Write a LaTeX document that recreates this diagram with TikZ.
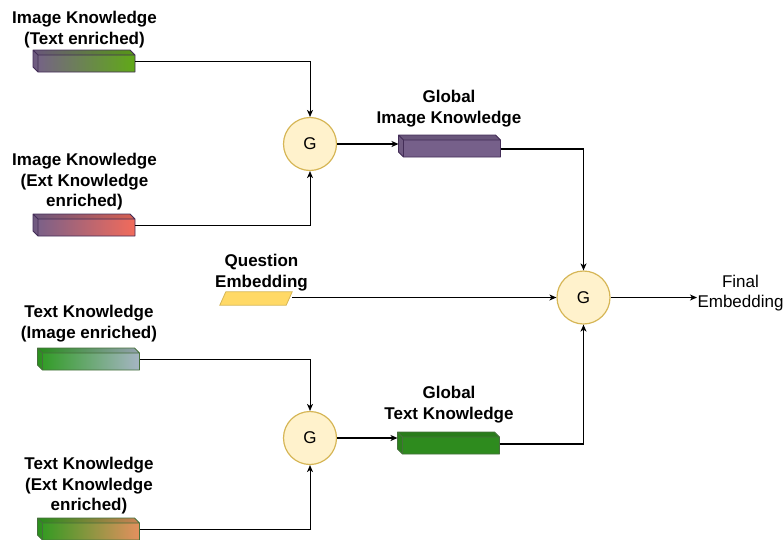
\documentclass[tikz,border=0pt]{standalone}
\usepackage{fontspec}
\setmainfont{Liberation Sans}
\usetikzlibrary{calc,arrows.meta}

\definecolor{kpurple}{HTML}{76608A}
\definecolor{kpurpleline}{HTML}{432D57}
\definecolor{kgreen}{HTML}{60A917}
\definecolor{kred}{HTML}{F26B5B}
\definecolor{tgreen}{HTML}{2D9B20}
\definecolor{tsteel}{HTML}{A6B5C4}
\definecolor{torange}{HTML}{E5905F}
\definecolor{tgreendark}{HTML}{2E8B1E}
\definecolor{tgreenline}{HTML}{2D6A1F}
\definecolor{gfill}{HTML}{FFF2CC}
\definecolor{gline}{HTML}{D6B656}
\definecolor{qfill}{HTML}{FFD966}

\tikzset{
  lbl/.style={font=\fontsize{17}{20.5}\selectfont\bfseries, align=center, inner sep=0pt},
  plainlbl/.style={font=\fontsize{17}{20.5}\selectfont, align=center, inner sep=0pt},
  cubebox/.style={minimum width=102pt, minimum height=22pt, inner sep=0pt, outer sep=0pt},
  gate/.style={circle, draw=gline, fill=gfill, line width=1.2pt, minimum size=53pt,
    inner sep=0pt, font=\fontsize{17}{20.5}\selectfont},
  tip/.style={-{Stealth[length=7pt,width=6pt,inset=2pt]}},
  thinlink/.style={tip, line width=0.8pt},
  link/.style={tip, line width=1.5pt},
}

% cube with a 5pt depth on its top and left side: name, x, y, left colour, right colour, stroke
\newcommand\cubenode[6]{%
  \node[cubebox] (#1) at (#2,#3) {};
  \coordinate (#1-a) at (#1.north west);
  \coordinate (#1-b) at ($(#1.north east)+(-5,0)$);
  \coordinate (#1-c) at ($(#1.north east)+(0,5)$);
  \coordinate (#1-d) at (#1.south east);
  \coordinate (#1-e) at ($(#1.south west)+(5,0)$);
  \coordinate (#1-f) at ($(#1.south west)+(0,-5)$);
  \coordinate (#1-g) at ($(#1.north west)+(5,5)$);
  \shade[left color=#4, right color=#5]
    (#1-a) -- (#1-b) -- (#1-c) -- (#1-d) -- (#1-e) -- (#1-f) -- cycle;
  \fill[black, opacity=0.10] (#1-a) -- (#1-b) -- (#1-c) -- (#1-g) -- cycle;
  \fill[black, opacity=0.06] (#1-a) -- (#1-g) -- (#1-e) -- (#1-f) -- cycle;
  \draw[#6, line width=0.8pt, line join=round]
    (#1-a) -- (#1-b) -- (#1-c) -- (#1-d) -- (#1-e) -- (#1-f) -- cycle
    (#1-g) -- (#1-c) (#1-g) -- (#1-e) (#1-a) -- (#1-g);
}

\begin{document}
\begin{tikzpicture}[x=1pt, y=-1pt]
\useasboundingbox (0,0) rectangle (784,539);

% knowledge inputs
\cubenode{ikt}{84}{61}{kpurple}{kgreen}{kpurpleline}
\cubenode{ike}{84}{225}{kpurple}{kred}{kpurpleline}
\cubenode{tki}{88.5}{359}{tgreen}{tsteel}{tgreenline!70!gray}
\cubenode{tke}{88.5}{529}{tgreen}{torange}{tgreenline!70!gray}

% fused knowledge
\cubenode{gik}{449.5}{146}{kpurple}{kpurple}{kpurpleline}
\cubenode{gtk}{448.5}{443}{tgreendark}{tgreendark}{tgreenline!70!gray}

% labels
\node[lbl] (likt) at (84.5,29.5) {Image Knowledge\\(Text enriched)};
\node[lbl] (like) at (84.5,182) {Image Knowledge\\(Ext Knowledge\\enriched)};
\node[lbl] (ltki) at (89,323.5) {Text Knowledge\\(Image enriched)};
\node[lbl] (ltke) at (89,486) {Text Knowledge\\(Ext Knowledge\\enriched)};
\node[lbl] (lgik) at (449,108.5) {Global\\Image Knowledge};
\node[lbl] (lgtk) at (449,404.5) {Global\\Text Knowledge};
\node[lbl] (lq) at (261.5,272.5) {Question\\Embedding};

% question embedding
\node[minimum width=72pt, minimum height=13pt, inner sep=0pt] (q) at (256,298.5) {};
\draw[gline, fill=qfill, line width=0.8pt]
  (q.south west) -- ([xshift=6pt]q.north west) -- (q.north east)
  -- ([xshift=-6pt]q.south east) -- cycle;

% gates
\node[gate] (g1) at (310,144) {G};
\node[gate] (g2) at (310,438) {G};
\node[gate] (g) at (583.5,297.5) {G};

% output
\node[plainlbl] (fe) at (740.5,293) {Final\\Embedding};
\coordinate (fein) at (697,297.5);

% connectors
\draw[thinlink] (ikt.east) -| (g1.north);
\draw[thinlink] (ike.east) -| (g1.south);
\draw[thinlink] (tki.east) -| (g2.north);
\draw[thinlink] (tke.east) -| (g2.south);
\draw[link] (g1.east) -- (g1.east -| gik.west);
\draw[link] (g2.east) -- (g2.east -| gtk.west);
\draw[link] ([yshift=-3pt]gik.east) -| (g.north);
\draw[link] ([yshift=-1pt]gtk.east) -| (g.south);
\draw[link] (q.east |- g.west) -- (g.west);
\draw[link] (g.east) -- (fein);
\end{tikzpicture}
\end{document}
